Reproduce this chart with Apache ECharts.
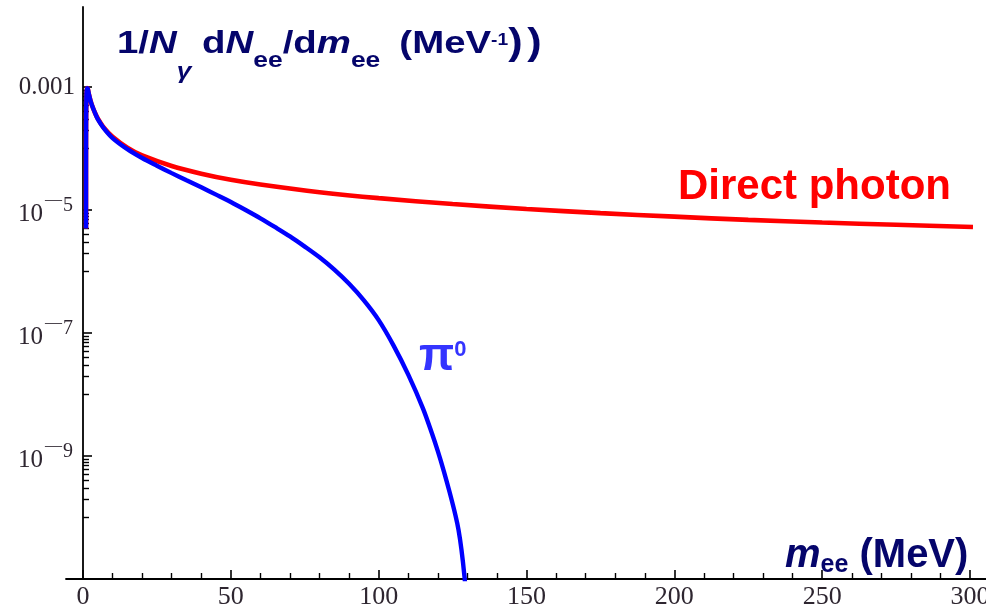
<!DOCTYPE html>
<html>
<head>
<meta charset="utf-8">
<script src="https://cdn.jsdelivr.net/npm/echarts@6/dist/echarts.min.js"></script>
<style>html,body{margin:0;padding:0;background:#fff}#c{width:986px;height:610px}</style>
</head>
<body>
<div id="c"></div>
<script>
// ---- data ----
const massDirect = [1.02, 1.03, 1.06, 1.1, 1.2, 1.35, 1.6, 2, 2.5, 3, 4, 5, 7, 10, 15, 20, 30, 40, 50, 60, 80, 100, 125, 150, 175, 200, 225, 250, 275, 301];
const directPhoton = [5e-6, 1.5e-4, 3.5e-4, 5e-4, 8.0e-4, 9.6e-4, 9.4e-4, 7.6e-4, 6.1e-4, 5.1e-4, 3.85e-4, 3.08e-4, 2.2e-4, 1.55e-4, 1.03e-4, 7.7e-5, 5.2e-5, 3.9e-5, 3.1e-5, 2.6e-5, 1.95e-5, 1.56e-5, 1.25e-5, 1.04e-5, 8.9e-6, 7.8e-6, 6.9e-6, 6.25e-6, 5.75e-6, 5.3e-6];
const massPi0 = [1.02, 1.03, 1.06, 1.1, 1.2, 1.35, 1.6, 2, 2.5, 3, 4, 5, 7, 10, 15, 20, 25, 30, 35, 40, 45, 50, 55, 60, 65, 70, 75, 80, 85, 90, 95, 100, 105, 110, 115, 118, 120, 122, 124, 126, 127, 128, 129, 130];
const pi0Dalitz = [5e-6, 1.5e-4, 3.5e-4, 5e-4, 8.0e-4, 9.6e-4, 9.4e-4, 7.6e-4, 6.1e-4, 5.1e-4, 3.85e-4, 3.0e-4, 2.15e-4, 1.48e-4, 9.77e-5, 7.0e-5, 5.25e-5, 3.98e-5, 3.05e-5, 2.34e-5, 1.78e-5, 1.35e-5, 1.0e-5, 7.33e-6, 5.25e-6, 3.72e-6, 2.54e-6, 1.70e-6, 1.07e-6, 6.3e-7, 3.39e-7, 1.62e-7, 6.3e-8, 2.1e-8, 5.9e-9, 2.34e-9, 1.2e-9, 5.75e-10, 2.57e-10, 1.07e-10, 6.3e-11, 3.0e-11, 1.12e-11, 3.2e-12];

const xMajorTicks = [0, 50, 100, 150, 200, 250, 300];
const xMinorTicks = [10, 20, 30, 40, 60, 70, 80, 90, 110, 120, 130, 140, 160, 170, 180, 190, 210, 220, 230, 240, 260, 270, 280, 290];
const yMajorTicks = [1e-3, 1e-5, 1e-7, 1e-9];
const yMinorTicks = [
  9e-4, 8e-4, 7e-4, 6e-4, 5e-4, 4e-4, 3e-4, 2e-4, 1e-4,
  9e-6, 8e-6, 7e-6, 6e-6, 5e-6, 4e-6, 3e-6, 2e-6, 1e-6,
  9e-8, 8e-8, 7e-8, 6e-8, 5e-8, 4e-8, 3e-8, 2e-8, 1e-8,
  9e-10, 8e-10, 7e-10, 6e-10, 5e-10, 4e-10, 3e-10, 2e-10, 1e-10
];

// ---- chart ----
const labelColor = '#2e2630';
const serif = "'Liberation Serif', 'DejaVu Serif', serif";
const sans = "'Liberation Sans', Arial, sans-serif";
const navy = '#05056b';

function yLabel(v) {
  const e = Math.round(Math.log10(v));
  if (e === -3) return '{c|0.001}';
  return '{b|10}{m|\u2014}{s|' + (-e) + '}';
}
function tok(size, extra) {
  return Object.assign({fontSize: size, fontWeight: 'bold', fontFamily: sans, fill: navy}, extra || {});
}

const chart = echarts.init(document.getElementById('c'), null, {renderer: 'canvas'});
const xBase = {type: 'value', min: -5.75, max: 305.4, splitLine: {show: false}, position: 'bottom', offset: 0};
const yBase = {type: 'log', logBase: 10, min: 1e-11, max: 0.02, splitLine: {show: false}, minorTick: {show: false}, position: 'left', offset: 0};
chart.setOption({
  animation: false,
  backgroundColor: '#fff',
  grid: {left: 66, right: 0, top: 7, bottom: 31, containLabel: false, outerBoundsMode: 'none'},
  xAxis: [
    Object.assign({}, xBase, {
      axisLine: {onZero: false, lineStyle: {color: '#000', width: 1.8}},
      axisTick: {inside: true, length: 9, lineStyle: {color: '#000', width: 1.6}, customValues: xMajorTicks},
      axisLabel: {customValues: xMajorTicks, margin: 5, fontSize: 26, fontFamily: serif, color: labelColor}
    }),
    Object.assign({}, xBase, {
      axisLine: {show: false, onZero: false},
      axisTick: {inside: true, length: 6, lineStyle: {color: '#000', width: 1.4}, customValues: xMinorTicks},
      axisLabel: {show: false}
    })
  ],
  yAxis: [
    Object.assign({}, yBase, {
      axisLine: {show: true, onZero: true, lineStyle: {color: '#000', width: 1.8}},
      axisTick: {inside: true, length: 9, lineStyle: {color: '#000', width: 1.6}, customValues: yMajorTicks},
      axisLabel: {
        customValues: yMajorTicks, margin: -9, formatter: yLabel,
        rich: {
          c: {fontSize: 25, fontFamily: serif, color: labelColor},
          b: {fontSize: 25, fontFamily: serif, color: labelColor, padding: [8, 0, 0, 0]},
          m: {fontSize: 17, fontFamily: serif, color: labelColor, padding: [0, 0, 20, 2]},
          s: {fontSize: 20, fontFamily: serif, color: labelColor, padding: [0, 2, 8, 1]}
        }
      }
    }),
    Object.assign({}, yBase, {
      axisLine: {show: false, onZero: true},
      axisTick: {inside: true, length: 6, lineStyle: {color: '#000', width: 1.4}, customValues: yMinorTicks},
      axisLabel: {show: false}
    })
  ],
  graphic: [
    {
      type: 'text', x: 117, y: 5, scaleX: 1.2, scaleY: 1, silent: true,
      style: {
        text: '{n|1/}{i|N}{g|\u03b3}{n| d}{i|N}{s|ee}{n|/d}{i|m}{t|ee}{n| (MeV}{p|-1}{r|)}{q|)}',
        verticalAlign: 'top', align: 'left',
        rich: {
          n: tok(32),
          i: tok(32, {fontStyle: 'italic'}),
          s: tok(22, {padding: [34, 0, 0, 0]}),
          t: tok(22, {padding: [34, 7, 0, 0]}),
          g: tok(22, {fontStyle: 'italic', padding: [56, 0, 0, 0]}),
          p: tok(16, {padding: [0, 0, 6, 0]}),
          r: tok(36),
          q: tok(36, {padding: [0, 0, 0, 4]})
        }
      }
    },
    {
      type: 'text', x: 785, y: 533, silent: true,
      style: {
        text: '{i|m}{s|ee}{n| (MeV)}',
        verticalAlign: 'top', align: 'left',
        rich: {
          n: tok(40),
          i: tok(40, {fontStyle: 'italic'}),
          s: tok(25, {padding: [20, 0, 0, 0]})
        }
      }
    },
    {
      type: 'text', x: 678, y: 187, silent: true,
      style: {
        text: 'Direct photon', verticalAlign: 'middle', align: 'left',
        fontSize: 42, fontWeight: 'bold', fontFamily: sans, fill: '#ff0000'
      }
    },
    {
      type: 'text', x: 419, y: 334, silent: true,
      style: {
        text: '{a|\u03c0}{b|0}', verticalAlign: 'top', align: 'left',
        rich: {
          a: {fontSize: 46, fontWeight: 'bold', fontFamily: sans, fill: '#3434ff'},
          b: {fontSize: 22, fontWeight: 'bold', fontFamily: sans, fill: '#3434ff', padding: [0, 0, 14, 0]}
        }
      }
    }
  ],
  series: [
    {
      name: 'Direct photon', type: 'line', xAxisIndex: 0, yAxisIndex: 0,
      data: massDirect.map((m, i) => [m, directPhoton[i]]),
      showSymbol: false, smooth: 0.3, clip: true,
      lineStyle: {color: '#ff0000', width: 4.6}
    },
    {
      name: '\u03c0\u2070', type: 'line', xAxisIndex: 0, yAxisIndex: 0,
      data: massPi0.map((m, i) => [m, pi0Dalitz[i]]),
      showSymbol: false, smooth: 0.3, clip: true,
      lineStyle: {color: '#0000ff', width: 4.4}
    }
  ]
});
</script>
</body>
</html>
